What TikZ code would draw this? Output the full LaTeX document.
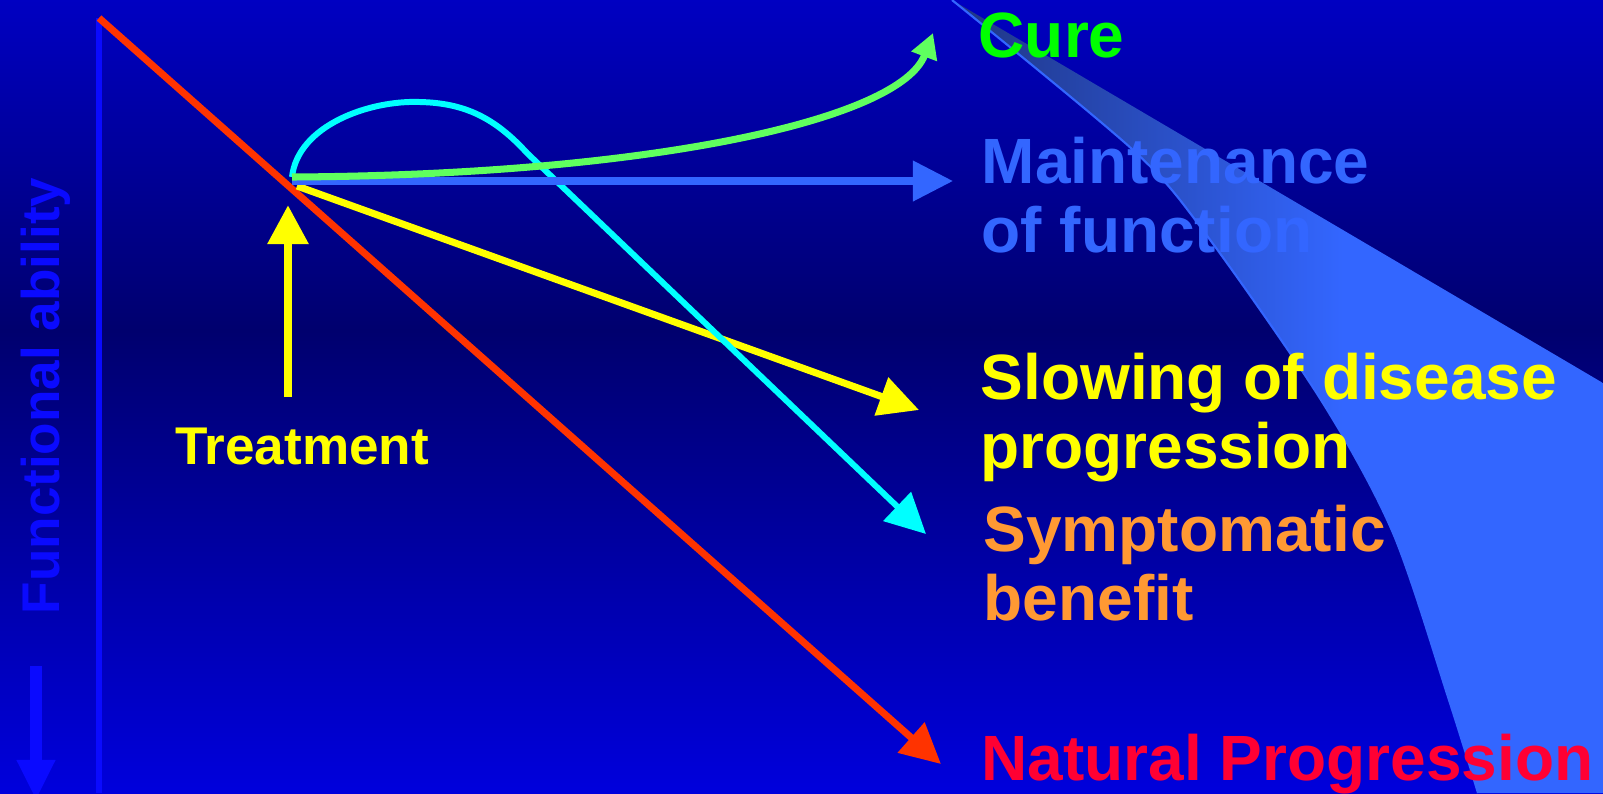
\documentclass[tikz,border=0pt]{standalone}
\usepackage{fontspec}
\setmainfont{Liberation Sans}
\usetikzlibrary{arrows.meta, positioning}
\definecolor{bgTop}{HTML}{0000C2}
\definecolor{bgMid}{HTML}{00006E}
\definecolor{bgBottom}{HTML}{0000DC}
\definecolor{wedgeDark}{HTML}{1F3582}
\definecolor{wedgeLight}{HTML}{3366FF}
\definecolor{axisBlue}{HTML}{0A0AFF}
\definecolor{natRed}{HTML}{FF3300}
\definecolor{natText}{HTML}{FF0033}
\definecolor{slowYellow}{HTML}{FFFF00}
\definecolor{symCyan}{HTML}{00FFFF}
\definecolor{symOrange}{HTML}{FF9933}
\definecolor{maintBlue}{HTML}{3366FF}
\definecolor{cureLine}{HTML}{5FFF5F}
\definecolor{cureText}{HTML}{00FF00}
\pgfdeclarehorizontalshading{wedgeshade}{100bp}{color(0bp)=(wedgeDark); color(25bp)=(wedgeDark); color(55bp)=(wedgeLight); color(100bp)=(wedgeLight)}

\begin{document}
\begin{tikzpicture}[x=0.01cm, y=-0.01cm,
    outcome/.style={anchor=base west, inner sep=0pt, align=left,
      font=\fontsize{18.2}{19.6}\selectfont\bfseries},
    small/.style={inner sep=0pt, font=\fontsize{15.1}{18}\selectfont\bfseries},
    trend/.style={line width=2pt, -{Triangle[length=4mm, width=3.9mm]}}
  ]
  \clip (0,0) rectangle (1603,793);
  % background
  \shade[top color=bgTop, bottom color=bgMid] (0,0) rectangle (1603,330);
  \shade[top color=bgMid, bottom color=bgBottom] (0,330) rectangle (1603,793);
  % light wedge on the right
  \shade[shading=wedgeshade] (952,0) -- (1603,383) -- (1603,793) -- (1478,793)
    -- plot[smooth] coordinates {(1478,793) (1449,700) (1393,533) (1321,400)
      (1205,233) (1133,150) (952,0)} -- cycle;
  \draw[maintBlue, line width=0.6pt] plot[smooth] coordinates {(1478,793) (1449,700)
    (1393,533) (1321,400) (1205,233) (1133,150) (952,0)};

  % axis
  \coordinate (axTop) at (99,18);
  \coordinate (axBot) at (99,793);
  \draw[axisBlue, line width=1.7pt] (axTop) -- (axBot);
  \coordinate (downFrom) at (36,666);
  \coordinate (downTo) at (36,800);
  \draw[axisBlue, line width=3.4pt, -{Triangle[length=4mm, width=3.6mm]}] (downFrom) -- (downTo);
  \node[small, text=axisBlue, rotate=90, anchor=base west] (ability) at (60,615) {Functional ability};

  % points
  \coordinate (tx) at (292,177);
  \coordinate (txLow) at (297,186);
  \coordinate (txMid) at (292,181);
  \coordinate (natTip) at (941,764);
  \coordinate (slowTip) at (919,410);
  \coordinate (symTip) at (926,534);
  \coordinate (maintTip) at (953,181);
  \coordinate (cureTip) at (933,33);
  \coordinate (foot) at (288,397);
  \coordinate (footTip) at (288,205);

  % trends
  \draw[trend, natRed] (axTop) -- (natTip);
  \draw[slowYellow, line width=2.5pt, -{Triangle[length=3.9mm, width=3.9mm]}] (foot) -- (footTip);
  \draw[trend, slowYellow] (txLow) -- (slowTip);
  \draw[trend, symCyan, line width=1.7pt] (tx) .. controls (298,125) and (370,100) .. (420,102)
    .. controls (465,103) and (495,118) .. (527,153) -- (symTip);
  \draw[trend, maintBlue] (txMid) -- (maintTip);
  \draw[trend, cureLine, -{Triangle[length=2.5mm, width=2.6mm]}] (tx) .. controls (650,175) and (900,120) .. (cureTip);

  % texts
  \node[small, text=slowYellow, below=0.3cm of foot, xshift=0.14cm] (treat) {Treatment};
  \node[outcome, text=cureText] (cure) at (978,57) {Cure};
  \node[outcome, text=maintBlue] (maint) at (981,252) {Maintenance\\of function};
  \node[outcome, text=slowYellow] (slow) at (980,468) {Slowing of disease\\progression};
  \node[outcome, text=symOrange] (sym) at (983,620) {Symptomatic\\benefit};
  \node[outcome, text=natText] (nat) at (981,780) {Natural Progression};
\end{tikzpicture}
\end{document}
